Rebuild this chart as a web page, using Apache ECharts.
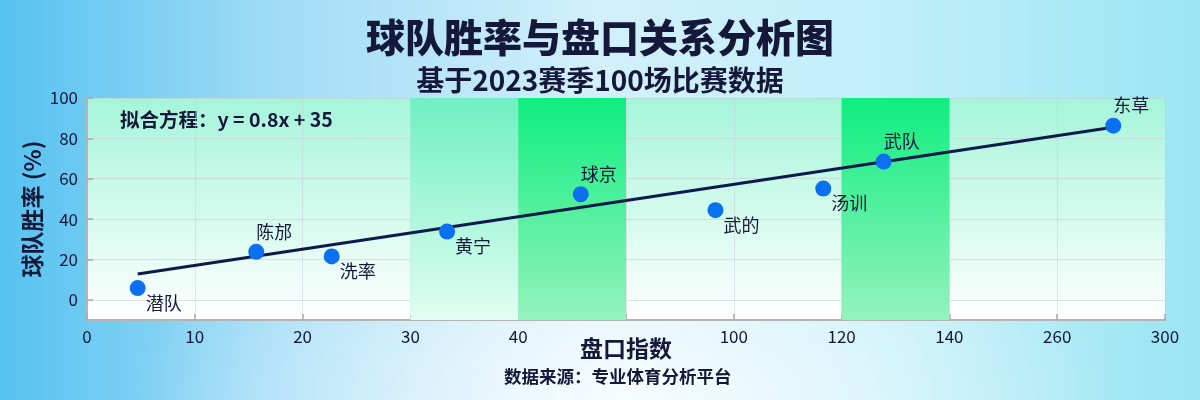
<!DOCTYPE html>
<html><head><meta charset="utf-8">
<script src="https://cdn.jsdelivr.net/npm/echarts@6/dist/echarts.min.js"></script>
<style>
html,body{margin:0;padding:0;}
body{width:1200px;height:400px;overflow:hidden;background:
 radial-gradient(ellipse 55% 75% at 52% 100%, rgba(255,255,255,0.85), rgba(255,255,255,0) 75%),
 linear-gradient(90deg,#55c2f0 0%,#9edbf6 22%,#d2f0fb 50%,#c2effa 72%,#9be6f2 100%);}
#chart{width:1200px;height:400px;}
</style></head><body><div id="chart"></div>
<script>
// ---- data ----
const teamNames = ['潜队', '陈邡', '洗率', '黄宁', '球京', '武的', '汤训', '武队', '东草'];
const indexValues = [0.47, 1.57, 2.27, 3.34, 4.58, 5.83, 6.83, 7.39, 9.52]; // position on the index axis (tick units)
const winRates = [5.8, 23.8, 21.5, 33.8, 52.3, 44.4, 55.1, 68.5, 86.3];
const xTickLabels = ['0', '10', '20', '30', '40', '', '100', '120', '140', '260', '300'];
const yTickValues = [0, 20, 40, 60, 80, 100];
const fitX = [0.47, 9.52];
const fitY = [12.8, 85.5];
const highlightZones = [[3, 4], [4, 5], [7, 8]];
const zoneStrength = ['soft', 'strong', 'strong'];

// ---- chart ----
const FONT = '"Noto Sans CJK SC", "Noto Sans", sans-serif';
const DARK = '#16183a';
const chart = echarts.init(document.getElementById('chart'), null, { renderer: 'canvas' });

const slope = (fitY[1] - fitY[0]) / (fitX[1] - fitX[0]);
const lineAt = x => fitY[0] + slope * (x - fitX[0]);

const scatterData = teamNames.map((n, i) => {
  const above = winRates[i] >= lineAt(indexValues[i]) - 0.01;
  return {
    name: n,
    value: [indexValues[i], winRates[i]],
    label: above ? { position: [8, -21] } : { position: [16, 14] }
  };
});

const grad = (top, bottom) => new echarts.graphic.LinearGradient(0, 0, 0, 1, [
  { offset: 0, color: top }, { offset: 1, color: bottom }
]);
const zoneColors = { soft: ['#6ff0c2', '#e2fdf3'], strong: ['#0fee80', '#95f3bc'] };

const zonesData = highlightZones.map((z, i) => [
  { xAxis: z[0], itemStyle: { color: grad(zoneColors[zoneStrength[i]][0], zoneColors[zoneStrength[i]][1]) } },
  { xAxis: z[1] }
]);

chart.setOption({
  backgroundColor: 'transparent',
  animation: false,
  textStyle: { fontFamily: FONT },
  title: [
    { text: '球队胜率与盘口关系分析图', left: 'center', top: 13,
      textStyle: { fontSize: 39, fontWeight: 900, color: DARK, fontFamily: FONT } },
    { text: '基于2023赛季100场比赛数据', left: 'center', top: 61,
      textStyle: { fontSize: 28, fontWeight: 'bold', color: DARK, fontFamily: FONT } }
  ],
  grid: {
    left: 87, right: 35, top: 98, bottom: 80, show: true, borderWidth: 0,
    backgroundColor: grad('#a5f5da', '#ffffff')
  },
  xAxis: {
    type: 'value', min: 0, max: 10, interval: 1,
    name: '盘口指数', nameLocation: 'middle', nameGap: 17, nameMoveOverlap: false,
    nameTextStyle: { fontSize: 23, fontWeight: 'bold', color: DARK, fontFamily: FONT },
    axisLine: { show: true, onZero: false, lineStyle: { color: '#b4b4b4', width: 2 } },
    axisTick: { show: true, inside: true, length: 6, lineStyle: { color: '#a8a8a8', width: 1.5 } },
    axisLabel: { fontSize: 17, color: DARK, margin: 8, fontFamily: FONT,
      formatter: v => xTickLabels[Math.round(v)] },
    splitLine: { show: true, lineStyle: { color: 'rgba(200,200,210,0.45)', width: 1 } }
  },
  yAxis: {
    type: 'value', min: -10, max: 100,
    name: '球队胜率 (%)', nameLocation: 'middle', nameGap: 43, nameRotate: 90, nameMoveOverlap: false,
    nameTextStyle: { fontSize: 23, fontWeight: 'bold', color: DARK, fontFamily: FONT },
    axisLine: { show: true, onZero: false, lineStyle: { color: '#b4b4b4', width: 2 } },
    axisTick: { show: true, inside: true, length: 6, customValues: yTickValues, lineStyle: { color: '#a8a8a8', width: 1.5 } },
    axisLabel: { fontSize: 17, color: DARK, margin: 9, customValues: yTickValues, fontFamily: FONT },
    splitLine: { show: true, lineStyle: { color: 'rgba(200,200,210,0.55)', width: 1 } }
  },
  graphic: [
    { type: 'text', left: 120, top: 110,
      style: { text: '拟合方程：y = 0.8x + 35', fill: DARK, font: '600 19.5px ' + FONT } },
    { type: 'text', left: 504, top: 368,
      style: { text: '数据来源：专业体育分析平台', fill: DARK, font: '600 17.5px ' + FONT } }
  ],
  series: [
    {
      type: 'line', name: 'zones', data: [], silent: true, z: 1,
      markArea: { silent: true, data: zonesData }
    },
    {
      type: 'line', name: 'fit', data: fitX.map((x, i) => [x, fitY[i]]),
      symbol: 'none', lineStyle: { color: '#0e1a4a', width: 3 }, z: 3, silent: true
    },
    {
      type: 'scatter', name: 'teams', data: scatterData, symbolSize: 16, z: 5,
      itemStyle: { color: '#0a70f0', opacity: 1 },
      label: { show: true, formatter: '{b}', fontSize: 18, color: DARK, align: 'left', verticalAlign: 'top', fontFamily: FONT }
    }
  ]
});
</script></body></html>
